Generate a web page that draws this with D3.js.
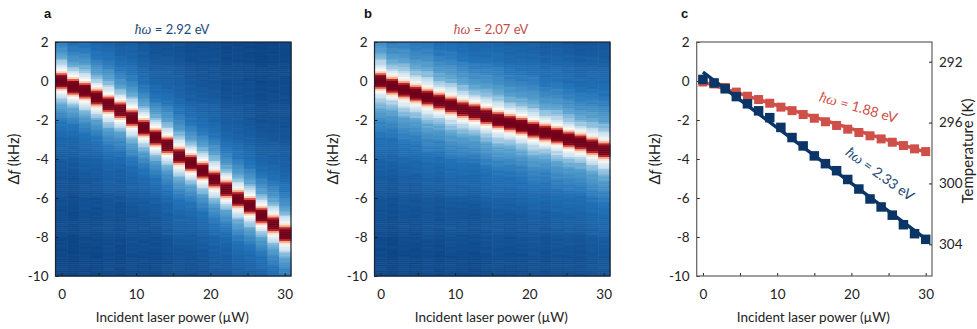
<!DOCTYPE html>
<html>
<head>
<meta charset="utf-8">
<script src="https://cdn.jsdelivr.net/npm/d3@7"></script>
<style>
  html, body { margin: 0; padding: 0; background: #fff; }
  svg { display: block; }
  text { font-family: Lato, "Open Sans", sans-serif; fill: #222; }
</style>
</head>
<body>
<svg id="chart" width="977" height="329"></svg>
<script>
// values

var powerTicks = [0, 10, 20, 30];
var powerMinorTicks = [0, 5, 10, 15, 20, 25, 30];
var freqTicks = [2, 0, -2, -4, -6, -8, -10];
var tempTicks = [292, 296, 300, 304];

// peak position in each heatmap column (kHz)
var heatPower = [0, 1.6, 3.2, 4.7, 6.3, 7.9, 9.5, 11.1, 12.6, 14.2, 15.8, 17.4, 18.9, 20.5, 22.1, 23.7, 25.3, 26.8, 28.4, 30];
var peakA = [0, -0.3, -0.5, -0.85, -1.2, -1.5, -1.9, -2.4, -2.9, -3.3, -3.85, -4.2, -4.6, -5.05, -5.55, -6.05, -6.4, -6.9, -7.35, -7.85];
var peakB = [0, -0.25, -0.45, -0.65, -0.85, -1.05, -1.25, -1.45, -1.6, -1.8, -2.0, -2.15, -2.3, -2.5, -2.65, -2.8, -3.0, -3.15, -3.35, -3.55];

// lineshape: distance from the peak (kHz) against colour level
var shapeDistance = [0, 0.24, 0.33, 0.42, 0.55, 0.78, 1.1, 1.6, 2.1, 3, 5, 8, 12];
var shapeLevelA = [1, 0.95, 0.76, 0.64, 0.56, 0.5, 0.42, 0.33, 0.26, 0.18, 0.09, 0.04, 0.01];
var shapeLevelB = [1, 0.95, 0.76, 0.64, 0.56, 0.5, 0.44, 0.37, 0.31, 0.23, 0.12, 0.05, 0.02];

// small brightness differences between columns and the thin horizontal streaks
var columnShade = [0.01, -0.01, 0.01, 0, 0.015, -0.005, 0.01, 0, -0.01, 0.005, 0.01, -0.005, 0, 0.01, -0.01, 0.005, 0, -0.01, 0.005, 0.01];
var rowStreak = [1, -1, 0, 2, -2, 0, 1, 0, -1, 3, 0, -2, 1, -1, 2, 0, -3, 1, 0, -1, 2, -1, 0, 1, -2, 0, 3, -1, 0, -2, 1, 0, -1, 2, 0, 1, -2, 0, 1, -1, 0, -3, 2, 0, 1];

// panel c
var linePower = [0, 30];
var markPower = [0, 1.5, 3, 4.5, 6, 7.5, 9, 10.5, 12, 13.5, 15, 16.5, 18, 19.5, 21, 22.5, 24, 25.5, 27, 28.5, 30];
var redShift = [-0.05, -0.15, -0.33, -0.57, -0.78, -0.95, -1.14, -1.34, -1.52, -1.72, -1.91, -2.09, -2.28, -2.47, -2.64, -2.81, -2.97, -3.14, -3.31, -3.48, -3.62];
var blueShift = [0.08, -0.1, -0.4, -0.8, -1.17, -1.53, -1.88, -2.38, -2.9, -3.33, -3.84, -4.24, -4.6, -5.05, -5.54, -6.05, -6.46, -6.88, -7.37, -7.83, -8.12];
var redFit = [-0.05, -3.65];
var blueFit = [0.45, -8.1];

var colorLevels = [0, 0.25, 0.4, 0.5, 0.56, 0.64, 0.76, 0.9, 1];
var colorStops = ["#0b4080", "#2272b8", "#5ba3cf", "#cfe3f0", "#fbfaf6", "#fcc5a4", "#d83c32", "#8c0a20", "#6d0019"];

var svg = d3.select("#chart");
var top_ = 42, bottom_ = 276;
var yScale = d3.scaleLinear().domain([2, -10]).range([top_, bottom_]);
var tempScale = d3.scaleLinear().domain([292, 304]).range([61.7, 244.3]);
var color = d3.scaleLinear().domain(colorLevels).range(colorStops).clamp(true);

var redColor = "#cf5049";
var blueColor = "#0a3566";

function drawFrame(g, left, right, frameColor)
{
    var x = d3.scaleLinear().domain([0, 30]).range([left + 6.2, right - 6.3]);

    var xAxis = d3.axisBottom(x).tickValues(powerMinorTicks)
        .tickSizeInner(-3).tickSizeOuter(0).tickPadding(13)
        .tickFormat(function(d) { return powerTicks.indexOf(d) >= 0 ? d : ""; });
    var yAxis = d3.axisLeft(yScale).tickValues(freqTicks)
        .tickSizeInner(-3).tickSizeOuter(0).tickPadding(7)
        .tickFormat(function(d) { return d; });

    var ax = g.append("g").attr("transform", "translate(0," + bottom_ + ")").call(xAxis);
    var ay = g.append("g").attr("transform", "translate(" + left + ",0)").call(yAxis);
    ax.select(".domain").remove();
    ay.select(".domain").remove();
    g.selectAll(".tick text").style("font-size", "13.5px").style("font-family", "Lato, sans-serif").attr("fill", "#222");
    g.selectAll(".tick line").attr("stroke", "#222");

    g.append("rect")
        .attr("x", left).attr("y", top_)
        .attr("width", right - left).attr("height", bottom_ - top_)
        .attr("fill", "none").attr("stroke", frameColor).attr("stroke-width", 1.2);

    g.append("text")
        .attr("x", (left + right) / 2 - 1).attr("y", 322)
        .attr("text-anchor", "middle").style("font-size", "13.5px")
        .text("Incident laser power (\u00b5W)");

    var lab = g.append("text")
        .attr("transform", "translate(" + (left - 37) + "," + (top_ + 117) + ") rotate(-90)")
        .attr("text-anchor", "middle").style("font-size", "14.5px");
    lab.append("tspan").text("\u0394");
    lab.append("tspan").style("font-style", "italic").text("f");
    lab.append("tspan").text(" (kHz)");

    return x;
}

function drawLetter(x, s)
{
    svg.append("text").attr("x", x).attr("y", 18)
        .style("font-family", "'Liberation Sans', sans-serif")
        .style("font-weight", "bold").style("font-size", "13px")
        .style("fill", "#111").text(s);
}

function drawEnergy(parent, s, fill, size)
{
    var t = parent.append("text").attr("text-anchor", "middle").style("fill", fill).style("font-size", size + "px");
    t.append("tspan").style("font-family", "'Liberation Serif', serif").style("font-style", "italic").style("font-size", (size + 1) + "px").text("\u0127\u03c9");
    t.append("tspan").text(s);
    return t;
}

function drawHeat(left, right, peaks, levels, streakShift)
{
    var g = svg.append("g");
    var band = d3.scaleBand().domain(heatPower).range([left, right]);
    var shape = d3.scaleLinear().domain(shapeDistance).range(levels).clamp(true);
    var rows = d3.range(0, 120).map(function(i) { return 2 - i * 0.1; });

    heatPower.forEach(function(p, c)
    {
        g.append("g").selectAll("rect").data(rows).enter().append("rect")
            .attr("x", band(p))
            .attr("width", band.bandwidth() + 0.5)
            .attr("y", function(f) { return yScale(f); })
            .attr("height", yScale(0) - yScale(0.1) + 0.5)
            .attr("fill", function(f, r) {
                var dist = Math.abs(f - 0.05 - peaks[c]);
                var level = shape(dist);
                if(level < 0.5)
                    level += columnShade[c] + 0.006 * rowStreak[(r + c * streakShift) % rowStreak.length];
                return color(level);
            });
    });

    drawFrame(g, left, right, "#1d2430");
}

drawHeat(55.5, 291, peakA, shapeLevelA, 7);
drawHeat(374.5, 610, peakB, shapeLevelB, 11);

drawLetter(44, "a");
drawLetter(364, "b");
drawLetter(681, "c");

drawEnergy(svg, " = 2.92 eV", "#1c4a78", 13).attr("x", 172).attr("y", 34);
drawEnergy(svg, "  = 2.07 eV", "#c0504d", 13).attr("x", 491).attr("y", 34);

// panel c
var gc = svg.append("g");
var xc = drawFrame(gc, 696.7, 932, "#5f5f5f");

var rightAxis = d3.axisRight(tempScale).tickValues(tempTicks)
    .tickSizeInner(-3).tickSizeOuter(0).tickPadding(7).tickFormat(function(d) { return d; });
var ar = gc.append("g").attr("transform", "translate(932,0)").call(rightAxis);
ar.select(".domain").remove();
ar.selectAll(".tick text").style("font-size", "13.5px").attr("fill", "#222");
ar.selectAll(".tick line").attr("stroke", "#222");

gc.append("text")
    .attr("transform", "translate(973,151) rotate(-90)")
    .attr("text-anchor", "middle").style("font-size", "15px")
    .text("Temperature (K)");

var fitLine = d3.line()
    .x(function(d, i) { return xc(linePower[i]); })
    .y(function(d) { return yScale(d); });

function drawSeries(values, fit, fill, size)
{
    gc.append("path").attr("d", fitLine(fit)).attr("fill", "none")
        .attr("stroke", fill).attr("stroke-width", 3.4);
    gc.append("g").selectAll("rect").data(values).enter().append("rect")
        .attr("x", function(d, i) { return xc(markPower[i]) - size / 2; })
        .attr("y", function(d) { return yScale(d) - size / 2; })
        .attr("width", size).attr("height", size)
        .attr("fill", fill);
}

drawSeries(redShift, redFit, redColor, 9);
drawSeries(blueShift, blueFit, blueColor, 9.5);

drawEnergy(gc, "  = 1.88 eV", redColor, 14).attr("transform", "translate(857,112) rotate(16)");
drawEnergy(gc, " = 2.33 eV", "#1c4a78", 14).attr("transform", "translate(877,178) rotate(36)");
</script>
</body>
</html>
